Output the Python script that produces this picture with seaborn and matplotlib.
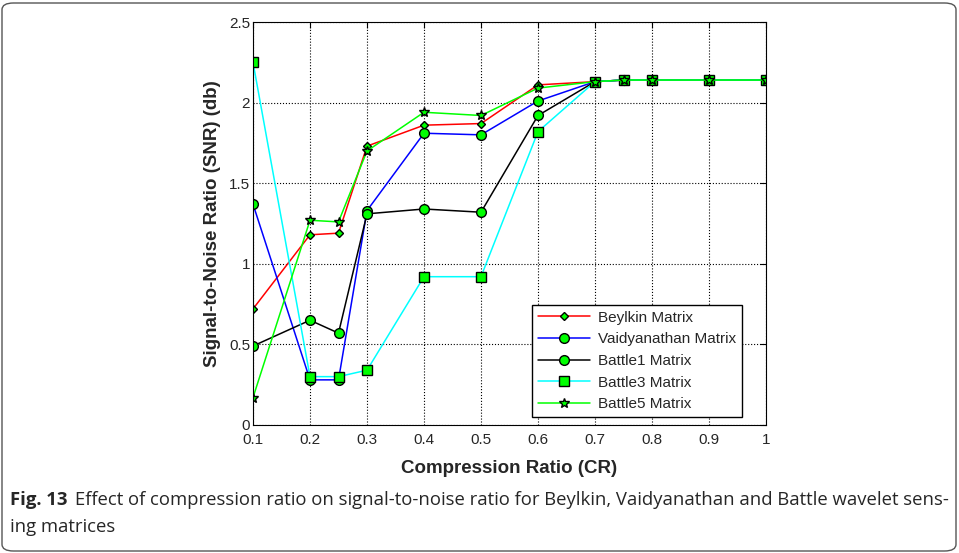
import numpy as np
import pandas as pd
import seaborn as sns
import matplotlib.pyplot as plt
from matplotlib.patches import FancyBboxPatch

# ============ data ============
cr = [0.1, 0.2, 0.25, 0.3, 0.4, 0.5, 0.6, 0.7, 0.75, 0.8, 0.9, 1.0]

beylkin = [0.72, 1.18, 1.19, 1.73, 1.86, 1.87, 2.11, 2.13, 2.14, 2.14, 2.14, 2.14]
vaidyanathan = [1.37, 0.28, 0.28, 1.33, 1.81, 1.80, 2.01, 2.13, 2.14, 2.14, 2.14, 2.14]
battle1 = [0.49, 0.65, 0.57, 1.31, 1.34, 1.32, 1.92, 2.13, 2.14, 2.14, 2.14, 2.14]
battle3 = [2.25, 0.30, 0.30, 0.34, 0.92, 0.92, 1.82, 2.13, 2.14, 2.14, 2.14, 2.14]
battle5 = [0.17, 1.27, 1.26, 1.70, 1.94, 1.92, 2.09, 2.13, 2.14, 2.14, 2.14, 2.14]

labels = ["Beylkin Matrix", "Vaidyanathan Matrix", "Battle1 Matrix",
          "Battle3 Matrix", "Battle5 Matrix"]
x_ticks = [0.1, 0.2, 0.3, 0.4, 0.5, 0.6, 0.7, 0.8, 0.9, 1]
y_ticks = [0, 0.5, 1, 1.5, 2, 2.5]

caption_bold = "Fig. 13"
caption_1 = "Effect of compression ratio on signal-to-noise ratio for Beylkin, Vaidyanathan and Battle wavelet sens-"
caption_2 = "ing matrices"

# ============ style ============
sns.set_theme(style="white")
plt.rcParams['font.family'] = ['Liberation Sans', 'DejaVu Sans']
plt.rcParams['xtick.direction'] = 'in'
plt.rcParams['ytick.direction'] = 'in'

fig = plt.figure(figsize=(9.59, 5.53), dpi=100)
ax = fig.add_axes([253 / 959, 1 - 425 / 553, 513 / 959, 403 / 553])

series = [beylkin, vaidyanathan, battle1, battle3, battle5]
colors = ["#ff0000", "#0000ff", "#000000", "#00ffff", "#00ff00"]
markers = ["D", "o", "o", "s", "*"]
msizes = [4.5, 7, 7, 7, 7.5]

for vals, lab, col, mk, ms in zip(series, labels, colors, markers, msizes):
    sns.lineplot(x=cr, y=vals, ax=ax, color=col, marker=mk, markersize=ms,
                 markerfacecolor="#00ff00", markeredgecolor="black",
                 markeredgewidth=1.0, linewidth=1.1, label=lab)

ax.set_xlim(0.1, 1)
ax.set_ylim(0, 2.5)
ax.set_xticks(x_ticks)
ax.set_xticklabels(["0.1", "0.2", "0.3", "0.4", "0.5", "0.6", "0.7", "0.8", "0.9", "1"])
ax.set_yticks(y_ticks)
ax.set_yticklabels(["0", "0.5", "1", "1.5", "2", "2.5"])
ax.tick_params(axis="both", labelsize=11, length=4, width=0.8, color="black",
               top=True, right=True)
ax.tick_params(axis="x", pad=6)
ax.tick_params(axis="y", pad=2)
ax.grid(True, color="black", linestyle=":", linewidth=0.8)
for sp in ax.spines.values():
    sp.set_color("black")
    sp.set_linewidth(0.8)

ax.set_xlabel("Compression Ratio (CR)", fontsize=13.5, fontweight="bold", labelpad=9)
ax.set_ylabel("Signal-to-Noise Ratio (SNR) (db)", fontsize=13.5, fontweight="bold", labelpad=6)

leg = ax.legend(loc="lower right", bbox_to_anchor=(0.968, 0.0), fontsize=11,
                frameon=True, fancybox=False, edgecolor="black", framealpha=1,
                handlelength=3.4, labelspacing=0.5, borderpad=0.4,
                handletextpad=0.5)
leg.get_frame().set_linewidth(1.0)

# caption
cap_font = ["Open Sans", "DejaVu Sans"]
fig.text(10 / 959, 1 - 500 / 553, caption_bold, fontsize=13.3, fontweight="bold",
         family=cap_font, va="center", ha="left")
fig.text(75 / 959, 1 - 500 / 553, caption_1, fontsize=13.3,
         family=cap_font, va="center", ha="left")
fig.text(10 / 959, 1 - 527 / 553, caption_2, fontsize=13.3,
         family=cap_font, va="center", ha="left")

# rounded frame around the whole figure
frame = FancyBboxPatch((2 / 959, 2 / 553), 954 / 959, 548 / 553,
                       boxstyle="round,pad=0,rounding_size=0.012",
                       transform=fig.transFigure, facecolor="none",
                       edgecolor="#555555", linewidth=1.0)
fig.patches.append(frame)

fig.savefig("out.png", dpi=100)
